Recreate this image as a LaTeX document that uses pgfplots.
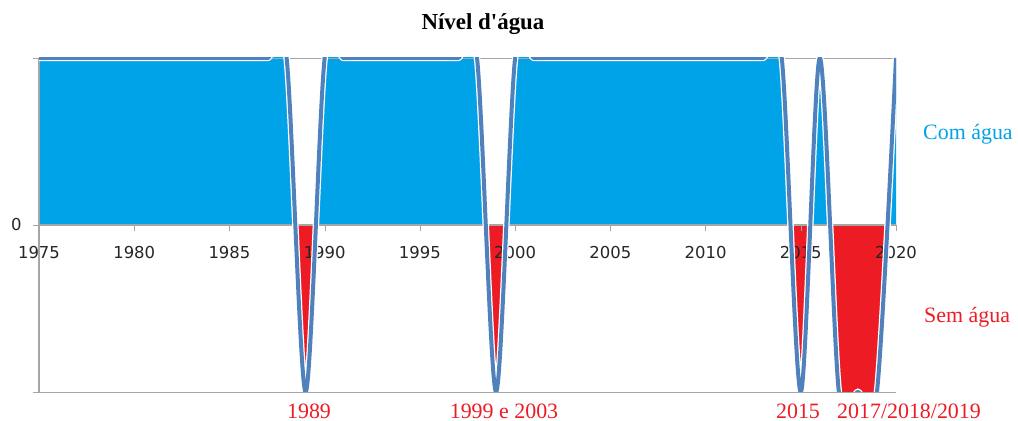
\documentclass[border=0pt]{standalone}
\usepackage{pgfplots}
\pgfplotsset{compat=1.18}
\usepackage{pgfplotstable}
\usepackage{fontspec}
\setmainfont{Liberation Serif}
\newfontfamily\titlefont{Liberation Serif}
\newfontfamily\tickfont{DejaVu Sans}

\definecolor{agua}{RGB}{0,162,232}
\definecolor{seca}{RGB}{237,28,36}
\definecolor{linha}{RGB}{79,129,189}
\definecolor{grade}{RGB}{166,166,166}

% 1 = com agua, -1 = sem agua
\pgfplotstableread{
ano nivel
1975 1
1976 1
1977 1
1978 1
1979 1
1980 1
1981 1
1982 1
1983 1
1984 1
1985 1
1986 1
1987 1
1988 1
1989 -1
1990 1
1991 1
1992 1
1993 1
1994 1
1995 1
1996 1
1997 1
1998 1
1999 -1
2000 1
2001 1
2002 1
2003 1
2004 1
2005 1
2006 1
2007 1
2008 1
2009 1
2010 1
2011 1
2012 1
2013 1
2014 1
2015 -1
2016 1
2017 -1
2018 -1
2019 -1
2020 1
}\nivel

\pgfplotsset{
  metade/.style={
    scale only axis, width=857bp, height=167bp,
    xmin=1975, xmax=2020,
    hide axis, clip=true,
  },
}

\begin{document}
\begin{tikzpicture}
\useasboundingbox (0,0) rectangle (1018bp,421bp);
% upper half: com agua
\begin{axis}[metade, at={(39bp,196bp)}, anchor=south west, ymin=0, ymax=1]
\addplot[fill=agua, draw=none, smooth] table[x=ano, y=nivel] {\nivel} \closedcycle;
\end{axis}
% lower half: sem agua
\begin{axis}[metade, at={(39bp,29bp)}, anchor=south west, ymin=-1, ymax=0]
\addplot[fill=seca, draw=none, smooth] table[x=ano, y=nivel] {\nivel} \closedcycle;
\end{axis}
\begin{axis}[
  at={(39bp,29bp)}, anchor=south west,
  scale only axis,
  width=857bp, height=334bp,
  xmin=1975, xmax=2020,
  ymin=-1, ymax=1,
  axis x line=middle,
  axis y line=left,
  axis line style={grade, line width=1.2bp, -},
  hide obscured x ticks=false,
  hide obscured y ticks=false,
  xtick={1975,1980,...,2020},
  ytick={-1,0,1},
  yticklabels={,0,},
  tick align=outside,
  major tick length=6bp,
  tick style={grade},
  ymajorgrids,
  grid style={grade},
  ticklabel style={font=\tickfont\fontsize{16.5}{18}\selectfont, text=black!85},
  xticklabel style={yshift=-12bp, /pgf/number format/1000 sep={}, /pgf/number format/assume math mode=true},
  yticklabel style={xshift=-8bp, /pgf/number format/assume math mode=true},
  clip=true,
]
\addplot[white, line width=6.5bp, smooth] table[x=ano, y=nivel] {\nivel};
\addplot[linha, line width=4bp, smooth] table[x=ano, y=nivel] {\nivel};
\end{axis}

\node[font=\titlefont\bfseries\fontsize{23}{26}\selectfont, anchor=base, inner sep=0] at (483bp,391bp) {Nível d'água};
\node[text=agua, font=\fontsize{22}{24}\selectfont, anchor=base west, inner sep=0] at (923bp,281bp) {Com água};
\node[text=seca, font=\fontsize{22}{24}\selectfont, anchor=base west, inner sep=0] at (924bp,98bp) {Sem água};
\begin{scope}[every node/.style={text=seca, font=\fontsize{22}{24}\selectfont, anchor=base, inner sep=0}]
\node at (309bp,3bp) {1989};
\node at (504bp,3bp) {1999 e 2003};
\node at (798bp,3bp) {2015};
\node at (909bp,3bp) {2017/2018/2019};
\end{scope}
\end{tikzpicture}
\end{document}
